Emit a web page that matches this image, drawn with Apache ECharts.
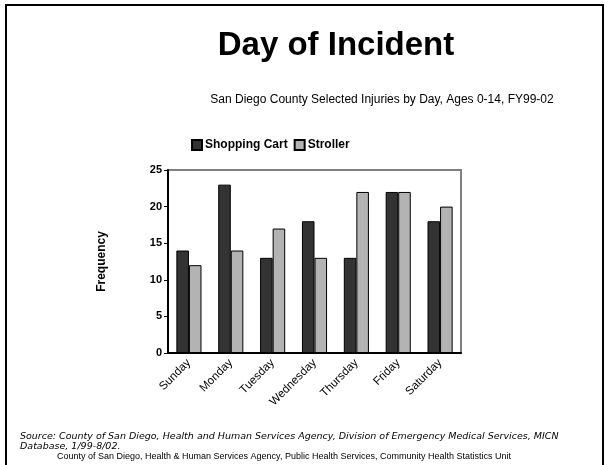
<!DOCTYPE html>
<html>
<head>
<meta charset="utf-8">
<script src="https://cdn.jsdelivr.net/npm/echarts@6/dist/echarts.min.js"></script>
<style>
  html, body { margin: 0; padding: 0; background: #fff; }
  #chart { width: 605px; height: 465px; }
</style>
</head>
<body>
<div id="chart"></div>
<script>
// day of incident, shopping cart vs stroller injuries
const days = ['Sunday', 'Monday', 'Tuesday', 'Wednesday', 'Thursday', 'Friday', 'Saturday']
const shoppingCart = [14, 23, 13, 18, 13, 22, 18]
const stroller = [12, 14, 17, 13, 22, 22, 20]

const chart = echarts.init(document.getElementById('chart'))

let option = {
    backgroundColor: '#fff',
    animation: false,
    textStyle: { fontFamily: 'Liberation Sans, Arial, sans-serif' },
    graphic: [
        // slide frame
        { type: 'polyline', shape: { points: [[6, 465], [6, 5], [603, 5], [603, 465]] },
          style: { stroke: '#000', lineWidth: 2, fill: null } },
        { type: 'text', style: { text: 'Day of Incident', x: 336, y: 46,
          align: 'center', verticalAlign: 'middle', font: 'bold 33px "Liberation Sans", Arial', fill: '#000' } },
        { type: 'text', style: { text: 'San Diego County Selected Injuries by Day, Ages 0-14, FY99-02', x: 382, y: 100,
          align: 'center', verticalAlign: 'middle', font: '12px "Liberation Sans", Arial', fill: '#000' } },
        { type: 'text', style: { text: 'Source: County of San Diego, Health and Human Services Agency, Division of Emergency Medical Services, MICN',
          x: 20, y: 437, verticalAlign: 'middle', font: 'italic 9.5px "DejaVu Sans", sans-serif', fill: '#000' } },
        { type: 'text', style: { text: 'Database, 1/99-8/02.',
          x: 20, y: 447, verticalAlign: 'middle', font: 'italic 9.5px "DejaVu Sans", sans-serif', fill: '#000' } },
        { type: 'text', style: { text: 'County of San Diego, Health & Human Services Agency, Public Health Services, Community Health Statistics Unit',
          x: 57, y: 457, verticalAlign: 'middle', font: '9px "Liberation Sans", Arial', fill: '#000' } }
    ],
    legend: {
        top: 134,
        left: 186,
        itemWidth: 10,
        itemHeight: 10,
        itemGap: 6,
        icon: 'rect',
        textStyle: { fontWeight: 'bold', fontSize: 12, color: '#000', padding: [0, 0, 0, -2] },
        data: ['Shopping Cart', 'Stroller']
    },
    grid: {
        left: 168,
        right: 144,
        top: 170,
        bottom: 112,
        show: true,
        borderColor: '#808080',
        borderWidth: 2
    },
    xAxis: {
        type: 'category',
        data: days,
        axisLine: { lineStyle: { color: '#000', width: 2 } },
        axisTick: { length: 4, lineStyle: { color: '#000' } },
        axisLabel: { rotate: 45, fontSize: 11.5, color: '#000', margin: 8 }
    },
    yAxis: {
        type: 'value',
        name: 'Frequency',
        nameLocation: 'middle',
        nameGap: 60,
        nameTextStyle: { fontWeight: 'bold', fontSize: 12, color: '#000' },
        min: 0,
        max: 25,
        interval: 5,
        axisLine: { show: true, lineStyle: { color: '#000', width: 2 } },
        axisTick: { show: true, length: 4, lineStyle: { color: '#000' } },
        axisLabel: { fontWeight: 'bold', fontSize: 11, color: '#000', margin: 6 },
        splitLine: { show: false }
    },
    series: [
        {
            name: 'Shopping Cart',
            type: 'bar',
            barGap: '0%',
            barCategoryGap: '40%',
            itemStyle: { color: '#333333', borderColor: '#000', borderWidth: 1 },
            data: shoppingCart
        },
        {
            name: 'Stroller',
            type: 'bar',
            itemStyle: { color: '#b3b3b3', borderColor: '#000', borderWidth: 1 },
            data: stroller
        }
    ]
}
chart.setOption(option)
</script>
</body>
</html>
